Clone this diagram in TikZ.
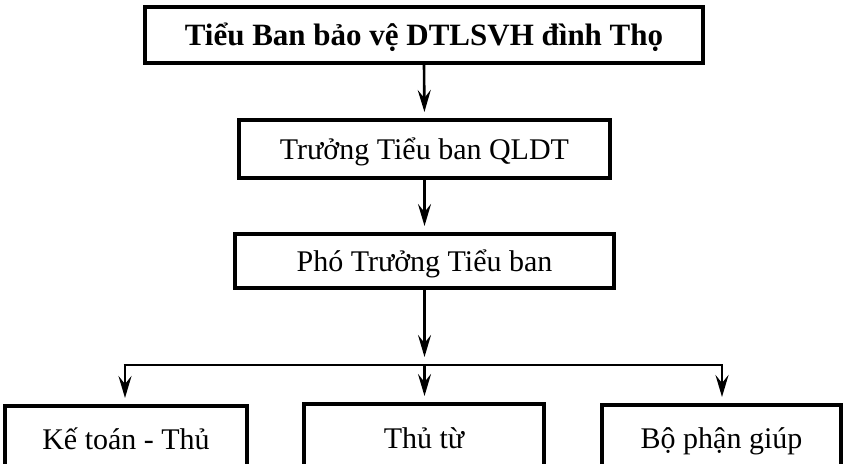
\documentclass[tikz,border=0pt]{standalone}
\usepackage{fontspec}
\setmainfont{Liberation Serif}
\usetikzlibrary{arrows.meta}
\begin{document}
\begin{tikzpicture}[x=1pt,y=-1pt,
  box/.style={draw,line width=4pt,inner sep=0pt,text height=26pt,text depth=6pt,font=\fontsize{30}{34}\selectfont},
  conn/.style={line width=2.6pt},
  arr/.style={conn,-{Stealth[length=22pt,width=13pt,inset=8pt]},shorten >=6pt}]
\useasboundingbox (0,0) rectangle (845,463);
\clip (0,0) rectangle (845,463);
\node[box,minimum width=558pt,minimum height=56pt,font=\fontsize{31}{34}\selectfont\bfseries] (top) at (424,35) {Tiểu Ban bảo vệ DTLSVH đình Thọ};
\node[box,minimum width=371pt,minimum height=58pt] (tr) at (424.5,149) {Trưởng Tiểu ban QLDT};
\node[box,minimum width=379pt,minimum height=54pt] (pho) at (424.5,261) {Phó Trưởng Tiểu ban};
\node[box,minimum width=242pt,minimum height=66pt] (b1) at (126,439) {Kế toán - Thủ};
\node[box,minimum width=240pt,minimum height=68pt] (b2) at (424,438) {Thủ từ};
\node[box,minimum width=239pt,minimum height=66pt] (b3) at (721.5,438) {Bộ phận giúp};
\coordinate (jt) at (424.5,363);
\coordinate (l) at (125,365);
\coordinate (m) at (424.5,365);
\coordinate (r) at (722,365);
\draw[arr] (top.south) -- (tr.north);
\draw[arr] (tr.south) -- (pho.north);
\draw[arr] (pho.south) -- (jt);
\draw[conn] ([xshift=-1.3pt]l) -- ([xshift=1.3pt]r);
\draw[arr] (l) -- (l |- b1.north);
\draw[arr] (m) -- (m |- b2.north);
\draw[arr] (r) -- (r |- b3.north);
\end{tikzpicture}
\end{document}
